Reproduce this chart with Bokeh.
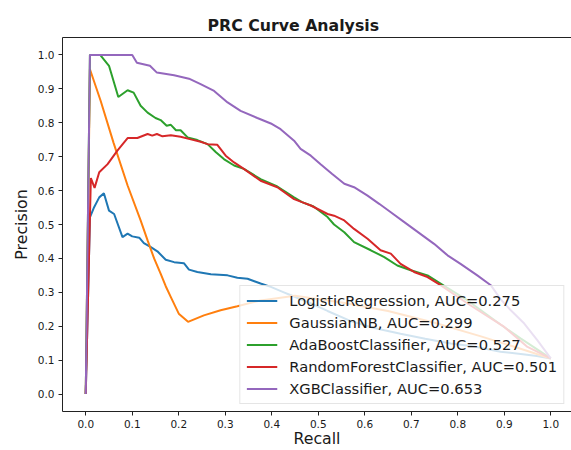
from bokeh.plotting import figure
from bokeh.models import Range1d, FixedTicker, LinearAxis, Legend, LegendItem
from bokeh.embed import file_html
from bokeh.resources import INLINE

# ---------------- data ----------------
tick_values = [0.0, 0.1, 0.2, 0.3, 0.4, 0.5, 0.6, 0.7, 0.8, 0.9, 1.0]
tick_labels = ["0.0", "0.1", "0.2", "0.3", "0.4", "0.5", "0.6", "0.7", "0.8", "0.9", "1.0"]

models = ["LogisticRegression", "GaussianNB", "AdaBoostClassifier",
          "RandomForestClassifier", "XGBClassifier"]
auc_values = [0.275, 0.299, 0.527, 0.501, 0.653]
colors = ["#1f77b4", "#ff7f0e", "#2ca02c", "#d62728", "#9467bd"]

lr_recall = [0, 0.009, 0.018, 0.029, 0.039, 0.05, 0.061, 0.079, 0.09, 0.10, 0.115, 0.125,
             0.14, 0.154, 0.172, 0.19, 0.211, 0.222, 0.24, 0.269, 0.305, 0.326, 0.348,
             0.376, 0.398, 0.426, 0.44, 0.48, 0.52, 0.57, 0.62, 0.677, 0.73, 0.785,
             0.828, 0.892, 0.94, 0.97, 1.0]
lr_precision = [0, 0.521, 0.551, 0.58, 0.592, 0.541, 0.531, 0.463, 0.473, 0.465, 0.461, 0.445,
                0.433, 0.421, 0.396, 0.389, 0.386, 0.367, 0.36, 0.353, 0.35, 0.343, 0.34,
                0.326, 0.316, 0.300, 0.292, 0.27, 0.245, 0.215, 0.195, 0.178, 0.163, 0.149,
                0.142, 0.125, 0.117, 0.112, 0.105]

gnb_recall = [0, 0.009, 0.032, 0.06, 0.09, 0.118, 0.133, 0.147, 0.161, 0.172, 0.183, 0.2,
              0.22, 0.254, 0.29, 0.326, 0.376, 0.45, 0.55, 0.65, 0.75, 0.85, 0.92, 1.0]
gnb_precision = [0, 0.958, 0.865, 0.74, 0.615, 0.512, 0.453, 0.40, 0.355, 0.318, 0.286, 0.237,
                 0.213, 0.232, 0.247, 0.259, 0.276, 0.29, 0.27, 0.245, 0.21, 0.17, 0.14, 0.105]

ada_recall = [0, 0.009, 0.031, 0.05, 0.07, 0.09, 0.103, 0.118, 0.133, 0.15, 0.161, 0.174,
              0.183, 0.194, 0.204, 0.219, 0.24, 0.262, 0.28, 0.297, 0.319, 0.34, 0.376,
              0.412, 0.448, 0.465, 0.49, 0.52, 0.534, 0.556, 0.577, 0.613, 0.642, 0.67,
              0.699, 0.735, 0.763, 0.821, 0.892, 0.935, 1.0]
ada_precision = [0, 1.0, 1.0, 0.968, 0.876, 0.896, 0.889, 0.85, 0.83, 0.814, 0.808, 0.791,
                 0.794, 0.778, 0.778, 0.757, 0.749, 0.737, 0.713, 0.693, 0.674, 0.664, 0.634,
                 0.612, 0.58, 0.566, 0.553, 0.522, 0.5, 0.477, 0.448, 0.424, 0.404, 0.379,
                 0.365, 0.35, 0.326, 0.276, 0.205, 0.164, 0.105]

rf_recall = [0, 0.011, 0.019, 0.029, 0.047, 0.068, 0.09, 0.111, 0.133, 0.143, 0.153, 0.165,
             0.183, 0.204, 0.226, 0.247, 0.262, 0.283, 0.301, 0.319, 0.34, 0.376, 0.412,
             0.448, 0.465, 0.484, 0.52, 0.534, 0.556, 0.577, 0.606, 0.634, 0.656, 0.677,
             0.706, 0.735, 0.763, 0.821, 0.9, 0.95, 1.0]
rf_precision = [0, 0.637, 0.608, 0.654, 0.678, 0.718, 0.755, 0.755, 0.767, 0.762, 0.767, 0.76,
                0.763, 0.759, 0.751, 0.744, 0.737, 0.735, 0.703, 0.683, 0.664, 0.629, 0.61,
                0.575, 0.566, 0.556, 0.531, 0.526, 0.512, 0.487, 0.458, 0.424, 0.414, 0.384,
                0.36, 0.345, 0.321, 0.267, 0.198, 0.139, 0.105]

xgb_recall = [0, 0.009, 0.10, 0.11, 0.138, 0.153, 0.19, 0.222, 0.247, 0.276, 0.305, 0.333,
              0.369, 0.398, 0.419, 0.448, 0.462, 0.484, 0.505, 0.53, 0.556, 0.577, 0.606,
              0.631, 0.656, 0.685, 0.71, 0.749, 0.778, 0.806, 0.842, 0.871, 0.892, 0.914,
              0.943, 0.971, 1.0]
xgb_precision = [0, 1.0, 1.0, 0.977, 0.968, 0.948, 0.94, 0.93, 0.914, 0.894, 0.86, 0.835,
                 0.814, 0.798, 0.781, 0.747, 0.723, 0.703, 0.678, 0.649, 0.62, 0.61, 0.585,
                 0.561, 0.536, 0.507, 0.482, 0.443, 0.409, 0.384, 0.35, 0.321, 0.28, 0.247,
                 0.208, 0.159, 0.105]

recalls = [lr_recall, gnb_recall, ada_recall, rf_recall, xgb_recall]
precisions = [lr_precision, gnb_precision, ada_precision, rf_precision, xgb_precision]

# ---------------- figure ----------------
FONT = "DejaVu Sans"
TXT = "#1a1a1a"

p = figure(width=571, height=450, output_backend="svg", toolbar_location=None,
           title="PRC Curve Analysis",
           x_range=Range1d(-0.05, 1.0446), y_range=Range1d(-0.0515, 1.0515),
           min_border_left=62, min_border_right=0, min_border_top=37, min_border_bottom=39)

p.title.text_font = FONT
p.title.text_font_size = "15.75px"
p.title.text_font_style = "bold"
p.title.text_color = TXT
p.title.align = "left"
p.title.offset = 145
p.title.standoff = 6

p.xgrid.visible = False
p.ygrid.visible = False
p.outline_line_color = None
p.background_fill_color = "white"
p.border_fill_color = "white"

for ax, lab in ((p.xaxis[0], "Recall"), (p.yaxis[0], "Precision")):
    ax.ticker = FixedTicker(ticks=tick_values)
    ax.major_label_overrides = {v: t for v, t in zip(tick_values, tick_labels)}
    ax.axis_label = lab
    ax.axis_label_text_font = FONT
    ax.axis_label_text_font_size = "15.75px"
    ax.axis_label_text_font_style = "normal"
    ax.axis_label_text_color = TXT
    ax.axis_label_standoff = 0
    ax.major_label_text_font = FONT
    ax.major_label_text_font_size = "10.5px"
    ax.major_label_text_color = TXT
    ax.major_label_standoff = 4
    ax.axis_line_color = "#222222"
    ax.axis_line_width = 1
    ax.major_tick_line_color = "#222222"
    ax.major_tick_out = 4
    ax.major_tick_in = 0
    ax.minor_tick_line_color = None

p.yaxis[0].axis_label_standoff = 4
p.xaxis[0].axis_label_standoff = -2

top = LinearAxis(ticker=FixedTicker(ticks=[]), axis_line_color="#222222",
                 major_tick_line_color=None, minor_tick_line_color=None,
                 major_label_text_font_size="0px", major_tick_out=0, major_tick_in=0,
                 major_label_standoff=0)
p.add_layout(top, "above")

items = []
for name, auc, col, rec, prec in zip(models, auc_values, colors, recalls, precisions):
    r = p.line(rec, prec, line_color=col, line_width=2)
    items.append(LegendItem(label=f"{name}, AUC={auc:.3f}", renderers=[r]))

legend = Legend(items=items, location="bottom_right", margin=7,
                label_text_font=FONT, label_text_font_size="14.7px", label_text_color=TXT,
                glyph_width=31, glyph_height=17, label_height=17, spacing=5,
                padding=6, label_standoff=12,
                border_line_color="#cccccc", border_line_width=1,
                background_fill_color="white", background_fill_alpha=0.8)
p.add_layout(legend)

open("out.html", "w").write(file_html(p, INLINE))
